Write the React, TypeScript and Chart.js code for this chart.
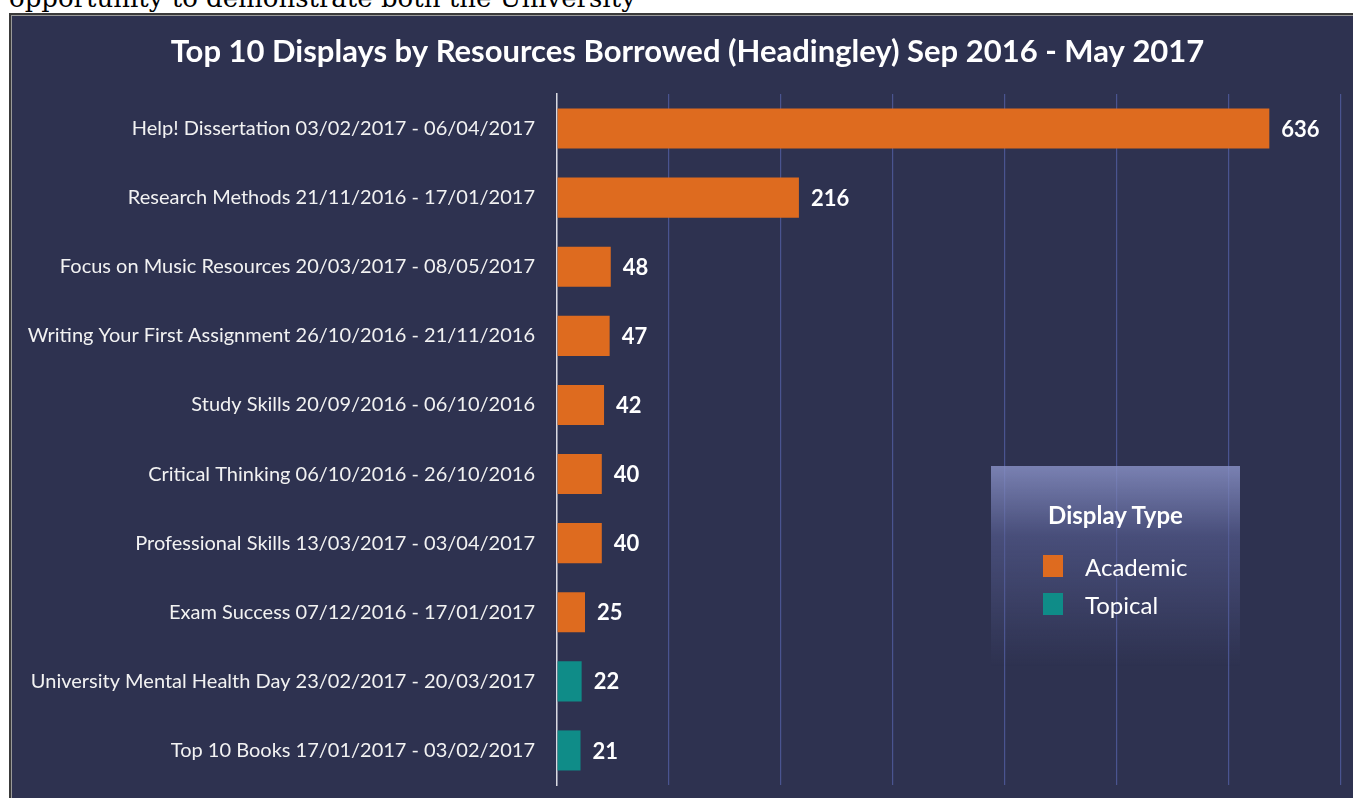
import React, { useEffect, useRef } from "react";
import { Chart, registerables } from "chart.js";

Chart.register(...registerables);

const categories: string[] = [
  "Help! Dissertation 03/02/2017 - 06/04/2017",
  "Research Methods 21/11/2016 - 17/01/2017",
  "Focus on Music Resources 20/03/2017 - 08/05/2017",
  "Writing Your First Assignment 26/10/2016 - 21/11/2016",
  "Study Skills 20/09/2016 - 06/10/2016",
  "Critical Thinking 06/10/2016 - 26/10/2016",
  "Professional Skills 13/03/2017 - 03/04/2017",
  "Exam Success 07/12/2016 - 17/01/2017",
  "University Mental Health Day 23/02/2017 - 20/03/2017",
  "Top 10 Books 17/01/2017 - 03/02/2017",
];
const borrowed: number[] = [636, 216, 48, 47, 42, 40, 40, 25, 22, 21];
const displayTypes: string[] = [
  "Academic", "Academic", "Academic", "Academic", "Academic",
  "Academic", "Academic", "Academic", "Topical", "Topical",
];
const legendTypes: string[] = ["Academic", "Topical"];
const typeColors: Record<string, string> = {
  Academic: "#DE6B1F",
  Topical: "#0F8C88",
};
const titleText = "Top 10 Displays by Resources Borrowed (Headingley) Sep 2016 - May 2017";
const legendTitle = "Display Type";

const FONT = "Lato, 'Open Sans', sans-serif";

const valueLabelPlugin = {
  id: "valueLabels",
  afterDatasetsDraw(chart: any) {
    const ctx = chart.ctx;
    const meta = chart.getDatasetMeta(0);
    ctx.save();
    ctx.fillStyle = "#ffffff";
    ctx.font = `bold 22px ${FONT}`;
    ctx.textAlign = "left";
    ctx.textBaseline = "middle";
    meta.data.forEach((bar: any, i: number) => {
      ctx.fillText(String(borrowed[i]), bar.x + 12, bar.y + 1);
    });
    ctx.restore();
  },
};

const centeredTitlePlugin = {
  id: "centeredTitle",
  afterDraw(chart: any) {
    const ctx = chart.ctx;
    ctx.save();
    ctx.fillStyle = "#ffffff";
    ctx.font = `bold 31px ${FONT}`;
    ctx.textAlign = "center";
    ctx.textBaseline = "middle";
    ctx.fillText(titleText, 675.5, 36);
    ctx.restore();
  },
};

export default function App() {
  const ref = useRef<HTMLCanvasElement | null>(null);

  useEffect(() => {
    if (!ref.current) return;
    const chart = new Chart(ref.current, {
      type: "bar",
      data: {
        labels: categories,
        datasets: [
          {
            label: "Resources Borrowed",
            data: borrowed,
            backgroundColor: displayTypes.map((t) => typeColors[t]),
            borderWidth: 0,
            barPercentage: 0.58,
            categoryPercentage: 1,
          },
        ],
      },
      options: {
        indexAxis: "y",
        animation: false,
        responsive: false,
        maintainAspectRatio: false,
        layout: { padding: { left: 0, right: 12, top: 78, bottom: 13 } },
        plugins: {
          legend: { display: false },
          tooltip: { enabled: false },
          title: { display: false },
        },
        scales: {
          x: {
            min: 0,
            max: 700,
            ticks: { stepSize: 100, display: false },
            grid: { color: "#4A5490", lineWidth: 1.2, drawTicks: false },
            border: { display: false },
          },
          y: {
            afterFit: (scale: any) => {
              scale.width = 545;
              scale.paddingTop = 0;
              scale.paddingBottom = 0;
            },
            ticks: {
              color: "#F2F2F2",
              font: { family: FONT, size: 20 },
              padding: 22,
            },
            grid: { display: false, drawTicks: false },
            border: { display: true, color: "#D9D9E0", width: 1.5 },
          },
        },
      },
      plugins: [valueLabelPlugin, centeredTitlePlugin],
    });
    return () => chart.destroy();
  }, []);

  return (
    <div
      style={{
        position: "fixed",
        left: 0,
        top: 0,
        width: 1353,
        height: 798,
        overflow: "hidden",
        background: "#ffffff",
      }}
    >
      <div
        style={{
          position: "absolute",
          left: 9,
          top: -15,
          fontFamily: "'DejaVu Serif', serif",
          fontSize: 26,
          lineHeight: "26px",
          color: "#000",
          whiteSpace: "nowrap",
        }}
      >
        opportunity to demonstrate both the University
      </div>
      <div
        style={{
          position: "absolute",
          left: 9,
          top: 13,
          width: 1360,
          height: 800,
          border: "2px solid #3a3a3a",
          boxShadow: "inset 0 0 0 1px #9a9a9a",
          background: "#2E3250",
          boxSizing: "border-box",
        }}
      />
      <canvas
        ref={ref}
        width={1341}
        height={782}
        style={{ position: "absolute", left: 12, top: 16, width: 1341, height: 782 }}
      />
      <div
        style={{
          position: "absolute",
          left: 991,
          top: 466,
          width: 249,
          height: 200,
          background:
            "linear-gradient(to bottom, rgba(135,143,195,0.85) 0%, rgba(90,97,150,0.6) 35%, rgba(46,50,80,0) 100%)",
          fontFamily: FONT,
          color: "#ffffff",
        }}
      >
        <div
          style={{
            position: "absolute",
            top: 34,
            left: 0,
            width: 249,
            textAlign: "center",
            fontWeight: "bold",
            fontSize: 24,
          }}
        >
          {legendTitle}
        </div>
        {legendTypes.map((t, i) => (
          <div
            key={t}
            style={{ position: "absolute", left: 52, top: 88 + i * 38, height: 24, display: "flex", alignItems: "center" }}
          >
            <div style={{ width: 20, height: 22, background: typeColors[t] }} />
            <div style={{ marginLeft: 22, fontSize: 24 }}>{t}</div>
          </div>
        ))}
      </div>
    </div>
  );
}
